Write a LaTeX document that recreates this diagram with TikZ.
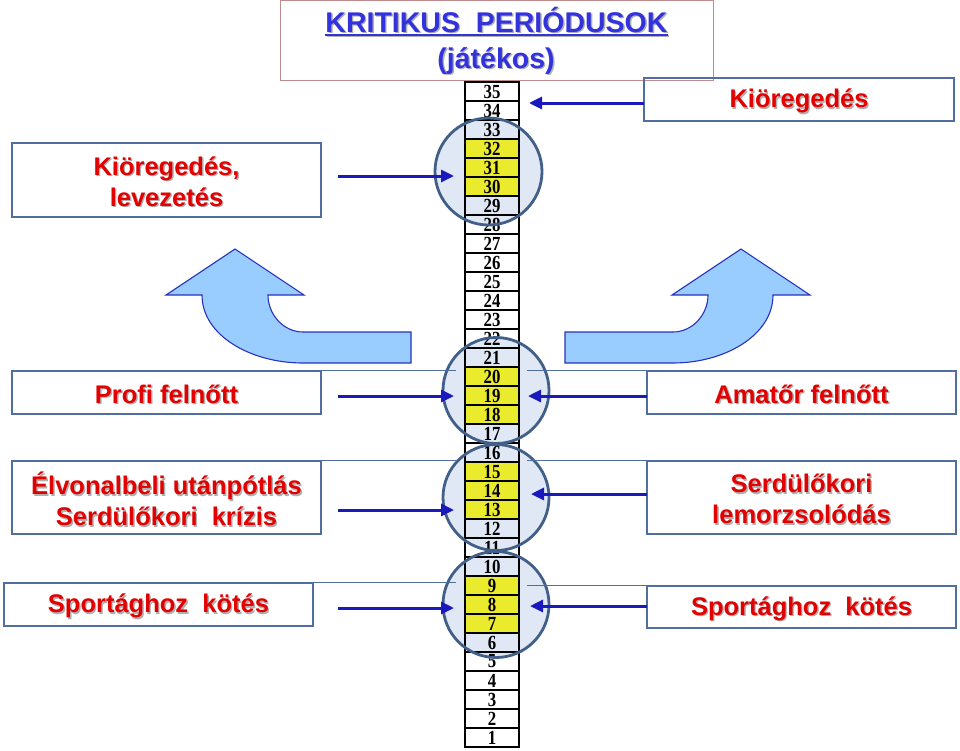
\documentclass[tikz,border=0pt]{standalone}
\usepackage{fontspec}
\setmainfont{Liberation Sans}
\newfontfamily\numfont[FakeStretch=0.84]{Liberation Serif}
\usetikzlibrary{arrows.meta}
\definecolor{boxc}{RGB}{80,110,160}
\definecolor{redtxt}{RGB}{226,0,0}
\definecolor{bluetxt}{RGB}{51,51,221}
\definecolor{titlebord}{RGB}{190,140,140}
\definecolor{arrowc}{RGB}{25,25,190}
\definecolor{ringc}{RGB}{65,95,135}
\definecolor{ringfill}{RGB}{200,214,238}
\definecolor{yell}{RGB}{235,235,45}
\definecolor{curvefill}{RGB}{153,204,255}
\definecolor{curvedraw}{RGB}{40,50,190}
\definecolor{shadowc}{RGB}{175,175,175}
\newcommand\shd[1]{\leavevmode\rlap{\kern1.4pt\raisebox{-1.4pt}{\color{shadowc}#1}}#1}
\newcommand\ulb[1]{\setbox0\hbox{#1}\rlap{\rule[-4pt]{\wd0}{2pt}}\box0}
\newcommand\boxfont{\bfseries\fontsize{25.5pt}{31pt}\selectfont}
\newcommand\titlefont{\bfseries\fontsize{28.5pt}{34pt}\selectfont}
\newcommand\cellfont{\numfont\bfseries\fontsize{20pt}{20pt}\selectfont}
\tikzset{
  box/.style={draw=boxc, line width=1.4pt, rectangle, inner sep=0pt},
  btext/.style={text=redtxt, align=center, font=\boxfont, inner sep=0pt, yshift=-2.5pt},
  ext/.style={draw=boxc, line width=0.9pt},
  arr/.style={draw=arrowc, line width=3pt, -{Triangle[length=13pt,width=12pt]}},
  cellw/.style={draw=black, line width=1.3pt, minimum width=54pt, minimum height=19pt, inner sep=0pt, font=\cellfont},
  celly/.style={cellw, fill=yell},
  ring/.style={draw=ringc, line width=2.8pt},
  ringbg/.style={fill=ringfill, fill opacity=0.55},
  bigarrow/.style={fill=curvefill, draw=curvedraw, line width=1.1pt, line join=miter},
  ttext/.style={text=bluetxt, font=\titlefont, inner sep=0pt, anchor=base}
}
\begin{document}
\begin{tikzpicture}[x=1pt,y=-1pt]
\useasboundingbox (0,0) rectangle (960,750);
\fill[white] (0,0) rectangle (960,750);

% title
\node[draw=titlebord, line width=1pt, minimum width=433pt, minimum height=80pt, inner sep=0pt] (title) at (496.5,40) {};
\node[ttext] (t1) at (496.5,32) {\shd{\ulb{KRITIKUS\ \ PERIÓDUSOK}}};
\node[ttext] (t2) at (496,68) {\shd{(játékos)}};

% column background
\fill[white] (465,82) rectangle (519,747);

% circle fills
\fill[ringbg] (488.5,171.5) circle (53.5);
\fill[ringbg] (496,390.5) circle (53);
\fill[ringbg] (496,497.5) circle (53);
\fill[ringbg] (496,604.5) circle (53);

% cells
\foreach \n in {1,2,3,4,5,6,10,11,12,16,17,21,22,23,24,25,26,27,28,29,33,34,35}
  \node[cellw] (c\n) at (492,{756.5-19*\n}) {\n};
\foreach \n in {7,8,9,13,14,15,18,19,20,30,31,32}
  \node[celly] (c\n) at (492,{756.5-19*\n}) {\n};

% circle outlines
\draw[ring] (488.5,171.5) circle (53.5);
\draw[ring] (496,390.5) circle (53);
\draw[ring] (496,497.5) circle (53);
\draw[ring] (496,604.5) circle (53);

% boxes
\node[box, minimum width=309pt, minimum height=74pt] (kl) at (166.5,180) {};
\node[box, minimum width=310pt, minimum height=43pt] (kr) at (799,99.5) {};
\node[box, minimum width=309pt, minimum height=43pt] (profi) at (166.5,392.5) {};
\node[box, minimum width=309pt, minimum height=43pt] (amator) at (801.5,392.5) {};
\node[box, minimum width=309pt, minimum height=73pt] (elv) at (166.5,497.5) {};
\node[box, minimum width=309pt, minimum height=73pt] (serd) at (801.5,497.5) {};
\node[box, minimum width=309pt, minimum height=43pt] (sportl) at (158.5,604.5) {};
\node[box, minimum width=309pt, minimum height=42pt] (sportr) at (801.5,607) {};

% box texts
\node[btext] (klt) at (kl.center) {\shd{Kiöregedés,}\\\shd{levezetés}};
\node[btext] (krt) at (kr.center) {\shd{Kiöregedés}};
\node[btext] (profit) at (profi.center) {\shd{Profi felnőtt}};
\node[btext] (amatort) at (amator.center) {\shd{Amatőr felnőtt}};
\node[btext] (elvt) at (elv.center) {\shd{Élvonalbeli utánpótlás}\\\shd{Serdülőkori\ \ krízis}};
\node[btext] (serdt) at (serd.center) {\shd{Serdülőkori}\\\shd{lemorzsolódás}};
\node[btext] (sportlt) at (sportl.center) {\shd{Sportághoz\ \ kötés}};
\node[btext] (sportrt) at (sportr.center) {\shd{Sportághoz\ \ kötés}};

% extended top edges
\draw[ext] (profi.north east) -- ++(134,0);
\draw[ext] (elv.north east) -- ++(134,0);
\draw[ext] (sportl.north east) -- ++(142,0);
\draw[ext] (amator.north west) -- ++(-119,0);
\draw[ext] (serd.north west) -- ++(-119,0);
\draw[ext] (sportr.north west) -- ++(-119,0);

% arrow end points
\coordinate (a1s) at (338,176);   \coordinate (a1e) at (454,176);
\coordinate (a2s) at (644,103);   \coordinate (a2e) at (529,103);
\coordinate (a3s) at (338,396);   \coordinate (a3e) at (454,396);
\coordinate (a4s) at (647,396);   \coordinate (a4e) at (528,396);
\coordinate (a5s) at (338,510);   \coordinate (a5e) at (454,510);
\coordinate (a6s) at (647,494);   \coordinate (a6e) at (531,494);
\coordinate (a7s) at (338,608);   \coordinate (a7e) at (454,608);
\coordinate (a8s) at (647,606);   \coordinate (a8e) at (530,606);
\draw[arr] (a1s) -- (a1e);
\draw[arr] (a2s) -- (a2e);
\draw[arr] (a3s) -- (a3e);
\draw[arr] (a4s) -- (a4e);
\draw[arr] (a5s) -- (a5e);
\draw[arr] (a6s) -- (a6e);
\draw[arr] (a7s) -- (a7e);
\draw[arr] (a8s) -- (a8e);

% curved arrows
\draw[bigarrow] (411,332) -- (303,332) .. controls (284,332) and (268,315) .. (268,295)
  -- (304,295) -- (235,249) -- (166,295) -- (202,295)
  .. controls (202,335) and (250,363) .. (303,363) -- (411,363) -- cycle;
\draw[bigarrow] (565,332) -- (673,332) .. controls (692,332) and (708,315) .. (708,295)
  -- (672,295) -- (741,249) -- (810,295) -- (773,295)
  .. controls (773,335) and (725,363) .. (673,363) -- (565,363) -- cycle;
\end{tikzpicture}
\end{document}
